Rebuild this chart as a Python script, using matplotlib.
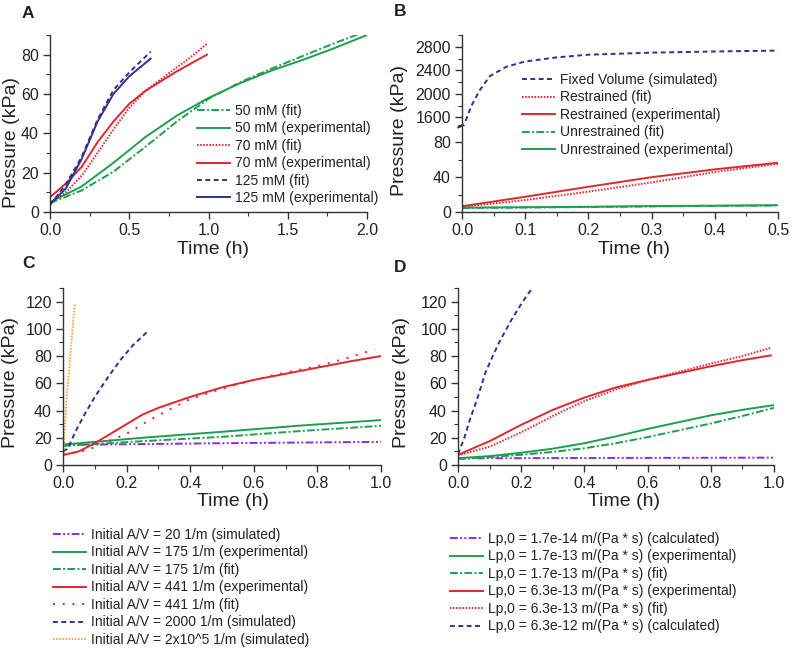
import numpy as np
import matplotlib.pyplot as plt
from matplotlib.ticker import MultipleLocator

plt.rcParams['font.family'] = ['Liberation Sans', 'DejaVu Sans']
plt.rcParams['text.color'] = '#222222'

GREEN = '#1e9f4f'
RED = '#e2262b'
NAVY = '#2e318f'
PURPLE = '#8a2be2'
ORANGE = '#f5a23a'

# ---- panel A: concentration series
a50_t = [0, 0.2, 0.4, 0.6, 0.8, 1.0, 1.2, 1.4, 1.6, 1.8, 2.0]
a50_exp = [5.0, 13.0, 25.0, 38.0, 49.0, 58.0, 65.5, 72.0, 77.5, 83.5, 90.0]
a50_fit = [4.5, 11.0, 20.5, 33.0, 46.0, 57.5, 66.0, 73.0, 79.5, 86.0, 92.0]
a70_t = [0, 0.1, 0.2, 0.3, 0.4, 0.5, 0.6, 0.7, 0.8, 0.9, 0.99]
a70_exp = [7.5, 14.5, 23.0, 35.5, 46.0, 55.0, 61.5, 66.5, 71.5, 76.0, 80.0]
a70_fit = [4.5, 10.0, 18.5, 30.0, 42.0, 53.0, 61.5, 67.5, 73.5, 79.5, 85.5]
a125_t = [0, 0.1, 0.2, 0.3, 0.4, 0.5, 0.635]
a125_exp = [4.0, 12.0, 27.0, 46.0, 60.0, 69.0, 78.0]
a125_fit = [3.5, 14.0, 28.0, 47.0, 62.0, 71.0, 81.5]

# ---- panel B: restraint series
b_fixed_t = [0, 0, 0.005, 0.015, 0.028, 0.044, 0.07, 0.1, 0.15, 0.2, 0.3, 0.4, 0.5]
b_fixed = [5, 1480, 1520, 1800, 2060, 2300, 2460, 2550, 2620, 2665, 2700, 2720, 2735]
b_t = [0, 0.1, 0.2, 0.3, 0.4, 0.5]
b_res_exp = [6.6, 17.5, 29.0, 40.0, 49.0, 56.6]
b_res_fit = [5.9, 13.7, 23.4, 34.0, 46.0, 55.4]
b_unr_exp = [5.0, 5.5, 6.0, 6.8, 7.3, 7.8]
b_unr_fit = [4.6, 5.1, 5.7, 6.4, 7.0, 7.5]

# ---- panel C: initial A/V
c20_t = [0, 0.1, 0.5, 1.0]
c20 = [15, 15, 16, 17]
c175_t = [0, 0.25, 0.5, 0.75, 1.0]
c175_exp = [15, 20, 24.4, 29, 33]
c175_fit = [14, 17.5, 20.7, 25, 28.8]
c441_exp_t = [0, 0.05, 0.1, 0.15, 0.2, 0.25, 0.3, 0.4, 0.5, 0.6, 0.7, 0.8, 0.9, 1.0]
c441_exp = [7.3, 10.0, 16.0, 23.0, 30.0, 37.0, 42.0, 50.0, 57.0, 62.5, 67.0, 71.5, 76.0, 80.0]
c441_fit_t = [0, 0.05, 0.1, 0.15, 0.2, 0.25, 0.3, 0.4, 0.5, 0.6, 0.7, 0.8, 0.9, 0.98]
c441_fit = [8.0, 9.5, 13.0, 18.0, 23.0, 30.0, 36.5, 48.5, 56.0, 62.5, 68.0, 72.5, 79.0, 85.0]
c2000_t = [0, 0.015, 0.04, 0.07, 0.1, 0.14, 0.18, 0.22, 0.266]
c2000 = [10, 12, 25, 38, 50, 64, 77, 88, 98]
c2e5_t = [0, 0.005, 0.01, 0.02, 0.03, 0.037]
c2e5 = [5, 25, 45, 72, 100, 118]

# ---- panel D: Lp,0
d_low_t = [0, 0.5, 1.0]
d_low = [4.9, 5.2, 5.4]
d_mid_t = [0, 0.1, 0.2, 0.3, 0.4, 0.5, 0.6, 0.7, 0.8, 0.9, 1.0]
d_mid_exp = [5.0, 6.5, 9.0, 12.0, 16.0, 21.0, 26.5, 31.5, 36.5, 40.5, 44.0]
d_mid_fit = [4.4, 5.8, 7.5, 9.6, 12.3, 16.0, 20.5, 25.5, 30.5, 36.0, 42.0]
d_hi_t = [0, 0.1, 0.2, 0.3, 0.4, 0.5, 0.6, 0.7, 0.8, 0.9, 0.99]
d_hi_exp = [7.5, 17.5, 29.5, 40.5, 49.5, 57.0, 62.5, 67.5, 72.5, 77.0, 80.5]
d_hi_fit = [7.0, 13.5, 24.0, 36.0, 47.0, 55.5, 62.5, 68.5, 74.5, 80.0, 86.0]
d_top_t = [0, 0.02, 0.04, 0.06, 0.087, 0.11, 0.13, 0.17, 0.205, 0.235]
d_top = [8, 20, 35, 48, 68, 80, 90, 107, 120, 130]

DASH = (0, (2.5, 1.8))
DOT = (0, (0.8, 0.8))
DASHDOT = (0, (4, 1.2, 1, 1.2))
DASHDOTDOT = (0, (4, 1.2, 1, 1.2, 1, 1.2))
SPARSE = (0, (1, 4))
LW = 1.4

W, H = 793, 650
fig = plt.figure(figsize=(W / 100, H / 100), dpi=100)


def box(l, r, t, b):
    return [l / W, 1 - b / H, (r - l) / W, (b - t) / H]


def style(ax, bottom=True):
    for s in ['top', 'right']:
        ax.spines[s].set_visible(False)
    if not bottom:
        ax.spines['bottom'].set_visible(False)
    for s in ax.spines.values():
        s.set_color('#333333')
        s.set_linewidth(1.0)
    ax.tick_params(which='major', direction='out', length=5, width=1, pad=3,
                   labelsize=11.5, colors='#333333', labelcolor='#222222')
    ax.tick_params(which='minor', direction='out', length=3, width=0.8,
                   colors='#333333')


def leg(x, y, handles=None, ax=None):
    kw = dict(loc='upper left', bbox_to_anchor=(x / W, 1 - y / H),
              bbox_transform=fig.transFigure, frameon=False, fontsize=10,
              handlelength=2.4, handletextpad=0.35, labelspacing=0.25,
              borderpad=0, borderaxespad=0)
    if ax is not None:
        ax.legend(**kw)
    else:
        fig.legend(handles=handles, **kw)


# ---------- A
ax = fig.add_axes(box(50, 367, 35, 212))
ax.plot(a50_t, a50_fit, color=GREEN, lw=LW, ls=DASHDOT, label='50 mM (fit)')
ax.plot(a50_t, a50_exp, color=GREEN, lw=LW, label='50 mM (experimental)')
ax.plot(a70_t, a70_fit, color=RED, lw=LW, ls=DOT, label='70 mM (fit)')
ax.plot(a70_t, a70_exp, color=RED, lw=LW, label='70 mM (experimental)')
ax.plot(a125_t, a125_fit, color=NAVY, lw=LW, ls=DASH, label='125 mM (fit)')
ax.plot(a125_t, a125_exp, color=NAVY, lw=LW, label='125 mM (experimental)')
ax.set_xlim(0, 2.0)
ax.set_ylim(0, 90)
ax.xaxis.set_major_locator(MultipleLocator(0.5))
ax.xaxis.set_minor_locator(MultipleLocator(0.25))
ax.yaxis.set_major_locator(MultipleLocator(20))
ax.yaxis.set_minor_locator(MultipleLocator(10))
ax.xaxis.set_major_formatter(lambda v, p: f'{v:.1f}')
style(ax)
leg(197, 104, ax=ax)

# ---------- B (broken axis)
axl = fig.add_axes(box(462, 778, 125, 212))
axu = fig.add_axes(box(462, 778, 35, 125), sharex=axl)
hb = []
for a in (axl, axu):
    hb = [
        a.plot(b_fixed_t, b_fixed, color=NAVY, lw=LW, ls=DASH, label='Fixed Volume (simulated)')[0],
        a.plot(b_t, b_res_fit, color=RED, lw=LW, ls=DOT, label='Restrained (fit)')[0],
        a.plot(b_t, b_res_exp, color=RED, lw=LW, label='Restrained (experimental)')[0],
        a.plot(b_t, b_unr_fit, color=GREEN, lw=LW, ls=DASHDOT, label='Unrestrained (fit)')[0],
        a.plot(b_t, b_unr_exp, color=GREEN, lw=LW, label='Unrestrained (experimental)')[0],
    ]
axl.set_xlim(0, 0.5)
axl.set_ylim(0, 100)
axu.set_ylim(1470, 3000)
axl.xaxis.set_major_locator(MultipleLocator(0.1))
axl.xaxis.set_minor_locator(MultipleLocator(0.05))
axl.xaxis.set_major_formatter(lambda v, p: f'{v:.1f}')
axl.yaxis.set_major_locator(MultipleLocator(40))
axl.yaxis.set_minor_locator(MultipleLocator(20))
axu.yaxis.set_major_locator(MultipleLocator(400))
axu.yaxis.set_minor_locator(MultipleLocator(200))
style(axl)
style(axu, bottom=False)
axu.tick_params(axis='x', which='both', bottom=False, labelbottom=False)
for dy in (-0.012, 0.0):
    axl.plot([-0.012, 0.012], [1 + dy - 0.02, 1 + dy + 0.02],
             transform=axl.transAxes, color='#333333', lw=1, clip_on=False)
leg(522, 73, handles=hb)

# ---------- C
ax = fig.add_axes(box(63, 381, 288, 465))
ax.plot(c20_t, c20, color=PURPLE, lw=LW, ls=DASHDOTDOT, label='Initial A/V = 20 1/m (simulated)')
ax.plot(c175_t, c175_exp, color=GREEN, lw=LW, label='Initial A/V = 175 1/m (experimental)')
ax.plot(c175_t, c175_fit, color=GREEN, lw=LW, ls=DASHDOT, label='Initial A/V = 175 1/m (fit)')
ax.plot(c441_exp_t, c441_exp, color=RED, lw=LW, label='Initial A/V = 441 1/m (experimental)')
ax.plot(c441_fit_t, c441_fit, color=RED, lw=LW, ls=SPARSE, label='Initial A/V = 441 1/m (fit)')
ax.plot(c2000_t, c2000, color=NAVY, lw=LW, ls=DASH, label='Initial A/V = 2000 1/m (simulated)')
ax.plot(c2e5_t, c2e5, color=ORANGE, lw=LW, ls=DOT, label='Initial A/V = 2x10^5 1/m (simulated)')
ax.set_xlim(0, 1.0)
ax.set_ylim(0, 130)
ax.xaxis.set_major_locator(MultipleLocator(0.2))
ax.xaxis.set_minor_locator(MultipleLocator(0.1))
ax.xaxis.set_major_formatter(lambda v, p: f'{v:.1f}')
ax.yaxis.set_major_locator(MultipleLocator(20))
ax.yaxis.set_minor_locator(MultipleLocator(10))
style(ax)
leg(53, 528, ax=ax)

# ---------- D
ax = fig.add_axes(box(458, 774, 288, 465))
ax.plot(d_low_t, d_low, color=PURPLE, lw=LW, ls=DASHDOTDOT, label='Lp,0 = 1.7e-14 m/(Pa * s) (calculated)')
ax.plot(d_mid_t, d_mid_exp, color=GREEN, lw=LW, label='Lp,0 = 1.7e-13 m/(Pa * s) (experimental)')
ax.plot(d_mid_t, d_mid_fit, color=GREEN, lw=LW, ls=DASHDOT, label='Lp,0 = 1.7e-13 m/(Pa * s) (fit)')
ax.plot(d_hi_t, d_hi_exp, color=RED, lw=LW, label='Lp,0 = 6.3e-13 m/(Pa * s) (experimental)')
ax.plot(d_hi_t, d_hi_fit, color=RED, lw=LW, ls=DOT, label='Lp,0 = 6.3e-13 m/(Pa * s) (fit)')
ax.plot(d_top_t, d_top, color=NAVY, lw=LW, ls=DASH, label='Lp,0 = 6.3e-12 m/(Pa * s) (calculated)')
ax.set_xlim(0, 1.0)
ax.set_ylim(0, 130)
ax.xaxis.set_major_locator(MultipleLocator(0.2))
ax.xaxis.set_minor_locator(MultipleLocator(0.1))
ax.xaxis.set_major_formatter(lambda v, p: f'{v:.1f}')
ax.yaxis.set_major_locator(MultipleLocator(20))
ax.yaxis.set_minor_locator(MultipleLocator(10))
style(ax)
leg(450, 532, ax=ax)

# ---------- labels
def ftext(x, y, s, **kw):
    fig.text(x / W, 1 - y / H, s, ha='center', va='center', **kw)


for x, y in [(12, 142), (400, 130), (11, 382), (401, 382)]:
    ftext(x, y, 'Pressure (kPa)', rotation=90, fontsize=14)
for x, y in [(213, 250), (634, 250), (233, 502), (624, 502)]:
    ftext(x, y, 'Time (h)', fontsize=14)
for x, y, s in [(28, 14, 'A'), (400, 12, 'B'), (28, 263, 'C'), (400, 268, 'D')]:
    ftext(x, y, s, fontsize=12.5, fontweight='bold')

fig.savefig('out.png', dpi=100)
